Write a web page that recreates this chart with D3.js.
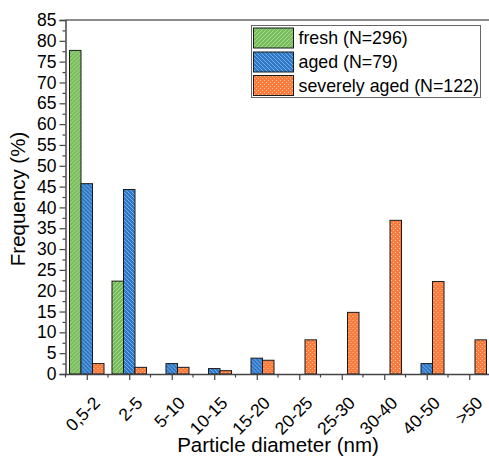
<!DOCTYPE html>
<html>
<head>
<meta charset="utf-8">
<script src="https://cdn.jsdelivr.net/npm/d3@7/dist/d3.min.js"></script>
<style>
  html, body { margin: 0; padding: 0; background: #fff; overflow: hidden; }
  svg { display: block; font-family: "Liberation Sans", Arial, sans-serif; }
</style>
</head>
<body>
<script>
const categories = ['0,5-2', '2-5', '5-10', '10-15', '15-20', '20-25', '25-30', '30-40', '40-50', '>50'];
const seriesNames = ['fresh (N=296)', 'aged (N=79)', 'severely aged (N=122)'];
const fresh = [77.7, 22.3, 0, 0, 0, 0, 0, 0, 0, 0];
const aged = [45.7, 44.3, 2.5, 1.3, 3.8, 0, 0, 0, 2.5, 0];
const severe = [2.5, 1.6, 1.6, 0.8, 3.3, 8.2, 14.8, 36.9, 22.2, 8.2];
const yTicks = d3.range(0, 86, 5);

const W = 489, H = 457;
const plotLeft = 65.5, plotRight = 490.5, plotTop = 20, plotBottom = 374;

const svg = d3.select('body').append('svg').attr('width', W).attr('height', H);
const defs = svg.append('defs');

// fill patterns
function hatch(id, bg, line, dir) {
  const p = defs.append('pattern').attr('id', id).attr('patternUnits', 'userSpaceOnUse')
    .attr('width', 4).attr('height', 4);
  p.append('rect').attr('width', 4).attr('height', 4).attr('fill', bg);
  const d = dir > 0 ? 'M-1,1 l2,-2 M0,4 l4,-4 M3,5 l2,-2' : 'M-1,3 l2,2 M0,0 l4,4 M3,-1 l2,2';
  p.append('path').attr('d', d).attr('stroke', line).attr('stroke-width', 0.8);
}
hatch('pGreen', '#78bd5c', '#b6e0a2', 1);
hatch('pBlue', '#2f78c8', '#8bbcec', -1);
const po = defs.append('pattern').attr('id', 'pOrange').attr('patternUnits', 'userSpaceOnUse')
  .attr('width', 4).attr('height', 4);
po.append('rect').attr('width', 4).attr('height', 4).attr('fill', '#fb7b3c');
po.append('rect').attr('x', 0).attr('y', 0).attr('width', 1).attr('height', 1).attr('fill', '#ffc7a6');
po.append('rect').attr('x', 2).attr('y', 2).attr('width', 1).attr('height', 1).attr('fill', '#ffc7a6');
const fills = ['url(#pGreen)', 'url(#pBlue)', 'url(#pOrange)'];

const x0 = d3.scaleBand().domain(categories).range([plotLeft, plotRight]).paddingInner(0.188).paddingOuter(0.094);
const x1 = d3.scaleBand().domain([0, 1, 2]).range([0, x0.bandwidth()]);
const y = d3.scaleLinear().domain([0, 85]).range([plotBottom, plotTop]);

// frame top line
svg.append('line').attr('x1', plotLeft).attr('x2', W).attr('y1', plotTop).attr('y2', plotTop)
  .attr('stroke', '#666').attr('stroke-width', 1.5);

// bars
const series = [fresh, aged, severe];
const groups = svg.append('g').selectAll('g').data(categories).join('g')
  .attr('transform', c => `translate(${x0(c)},0)`);
groups.selectAll('rect')
  .data((c, i) => series.map((s, k) => ({ k, v: s[i] })).filter(d => d.v > 0))
  .join('rect')
  .attr('x', d => x1(d.k))
  .attr('width', x1.bandwidth())
  .attr('y', d => y(d.v))
  .attr('height', d => y(0) - y(d.v))
  .attr('fill', d => fills[d.k])
  .attr('stroke', '#1a1a1a')
  .attr('stroke-width', 1);

// y axis
const yAxis = svg.append('g').attr('transform', `translate(${plotLeft},0)`)
  .call(d3.axisLeft(y).tickValues(yTicks).tickSize(6).tickPadding(3));
yAxis.selectAll('text').attr('font-size', 17.5).attr('fill', '#000');
yAxis.select('.domain').attr('stroke', '#444').attr('stroke-width', 1.5);
yAxis.selectAll('.tick line').attr('stroke', '#444').attr('stroke-width', 1.2);
svg.append('g').attr('transform', `translate(${plotLeft},0)`)
  .call(d3.axisLeft(y).tickValues(yTicks.map(v => v + 2.5).filter(v => v < 85)).tickSize(3).tickFormat(''))
  .call(g => g.select('.domain').remove())
  .selectAll('line').attr('stroke', '#444').attr('stroke-width', 1.2);

// x axis
const center = d3.scalePoint().domain(categories)
  .range([x0(categories[0]) + x0.bandwidth() / 2, x0(categories[9]) + x0.bandwidth() / 2]);
const xAxis = svg.append('g').attr('transform', `translate(0,${plotBottom})`)
  .call(d3.axisBottom(center).tickSize(6).tickPadding(2).tickSizeOuter(0));
xAxis.select('.domain').attr('d', `M${plotLeft},0.5H${W}`).attr('stroke', '#444').attr('stroke-width', 1.5);
xAxis.selectAll('.tick line').attr('stroke', '#444').attr('stroke-width', 1.2);
xAxis.selectAll('text')
  .attr('font-size', 17.5).attr('fill', '#000')
  .attr('text-anchor', 'end').attr('dy', null).attr('x', 0).attr('y', 0)
  .attr('transform', 'translate(14,30) rotate(-45)');
const step = x0.step();
svg.append('g').selectAll('line').data(d3.range(0, 11)).join('line')
  .attr('x1', k => plotLeft + k * step).attr('x2', k => plotLeft + k * step)
  .attr('y1', plotBottom).attr('y2', plotBottom + 3.5)
  .attr('stroke', '#444').attr('stroke-width', 1.2);

// titles
svg.append('text').attr('x', 278).attr('y', 452).attr('text-anchor', 'middle')
  .attr('font-size', 20.5).text('Particle diameter (nm)');
svg.append('text').attr('transform', 'translate(25,199) rotate(-90)').attr('text-anchor', 'middle')
  .attr('font-size', 20.5).text('Frequency (%)');

// legend
const lg = svg.append('g');
lg.append('rect').attr('x', 251.5).attr('y', 25.5).attr('width', 229).attr('height', 72)
  .attr('fill', '#fff').attr('stroke', '#666').attr('stroke-width', 1);
const rowY = [28, 52, 75.5];
seriesNames.forEach((name, k) => {
  lg.append('rect').attr('x', 253.5).attr('y', rowY[k]).attr('width', 40).attr('height', 20)
    .attr('fill', fills[k]).attr('stroke', '#1a1a1a').attr('stroke-width', 1);
  lg.append('text').attr('x', 298.5).attr('y', rowY[k] + 16).attr('font-size', 17.8).text(name);
});
</script>
</body>
</html>
